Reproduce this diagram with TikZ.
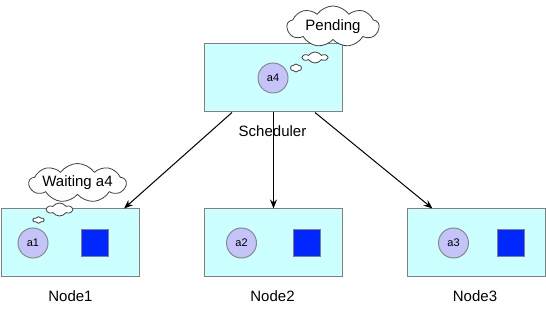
\documentclass[tikz,border=0pt]{standalone}
\usepackage{fontspec}
\setmainfont{Liberation Sans}
\usetikzlibrary{shapes.symbols,arrows.meta,calc}
\definecolor{boxfill}{HTML}{CCFFFF}
\definecolor{boxline}{HTML}{808080}
\definecolor{podfill}{HTML}{C4C4FA}
\definecolor{podline}{HTML}{8A8A8A}
\definecolor{sqfill}{HTML}{0027FF}
\tikzset{
  hostbox/.style={draw=boxline, fill=boxfill, line width=1pt, minimum width=138pt, minimum height=68pt, inner sep=0pt},
  pod/.style={circle, draw=podline, fill=podfill, line width=1pt, minimum size=30pt, inner sep=0pt, font=\fontsize{11}{13}\selectfont},
  sq/.style={draw=boxline, fill=sqfill, line width=1pt, minimum size=27pt, inner sep=0pt},
  lbl/.style={font=\fontsize{15}{18}\selectfont, inner sep=0pt},
  thought/.style={cloud, cloud puffs=9, cloud puff arc=110, cloud ignores aspect, draw=black!75, fill=white, line width=0.8pt, inner sep=0pt, font=\fontsize{15}{18}\selectfont},
  puff/.style={cloud, cloud puffs=6, cloud puff arc=110, cloud ignores aspect, draw=black!75, fill=white, line width=0.8pt, inner sep=0pt},
  link/.style={draw=black, line width=1pt, -{Stealth[length=9pt,width=7pt]}}
}
\begin{document}
\begin{tikzpicture}[x=1pt,y=-1pt]
\useasboundingbox (0,0) rectangle (546,312);
% scheduler
\node[hostbox] (sched) at (273.5,78) {};
\node[pod] (a4) at (273,78) {a4};
\node[puff, minimum width=11pt, minimum height=8pt] (sp1) at (296,68) {};
\node[puff, minimum width=24pt, minimum height=11pt] (sp2) at (315,57.5) {};
\node[thought, minimum width=92pt, minimum height=41pt] (pending) at (333,26.5) {Pending};
\node[lbl] (schedlbl) at (272.5,131) {Scheduler};
% nodes
\node[hostbox] (n1) at (70.5,243) {};
\node[pod] (a1) at (33,243) {a1};
\node[sq] (s1) at (95,243.5) {};
\node[lbl] (n1lbl) at (70.5,296) {Node1};
\node[hostbox] (n2) at (273.5,243) {};
\node[pod] (a2) at (241.5,243) {a2};
\node[sq] (s2) at (306.5,243.5) {};
\node[lbl] (n2lbl) at (272.5,296) {Node2};
\node[hostbox] (n3) at (476,243) {};
\node[pod] (a3) at (453.5,243) {a3};
\node[sq] (s3) at (510.5,243.5) {};
\node[lbl] (n3lbl) at (475,296) {Node3};
% waiting cloud
\node[puff, minimum width=11pt, minimum height=6.5pt] (wp1) at (38.5,220) {};
\node[puff, minimum width=25pt, minimum height=13pt] (wp2) at (59.5,209.5) {};
\node[thought, minimum width=93pt, minimum height=39pt] (waiting) at (77.5,183) {Waiting a4};
% arrows
\draw[link] ($(sched.south)+(-41.5,0)$) -- ($(n1.north east)+(-16,0)$);
\draw[link] (sched.south) -- (n2.north);
\draw[link] ($(sched.south)+(41.5,0)$) -- ($(n3.north west)+(26,0)$);
\end{tikzpicture}
\end{document}
